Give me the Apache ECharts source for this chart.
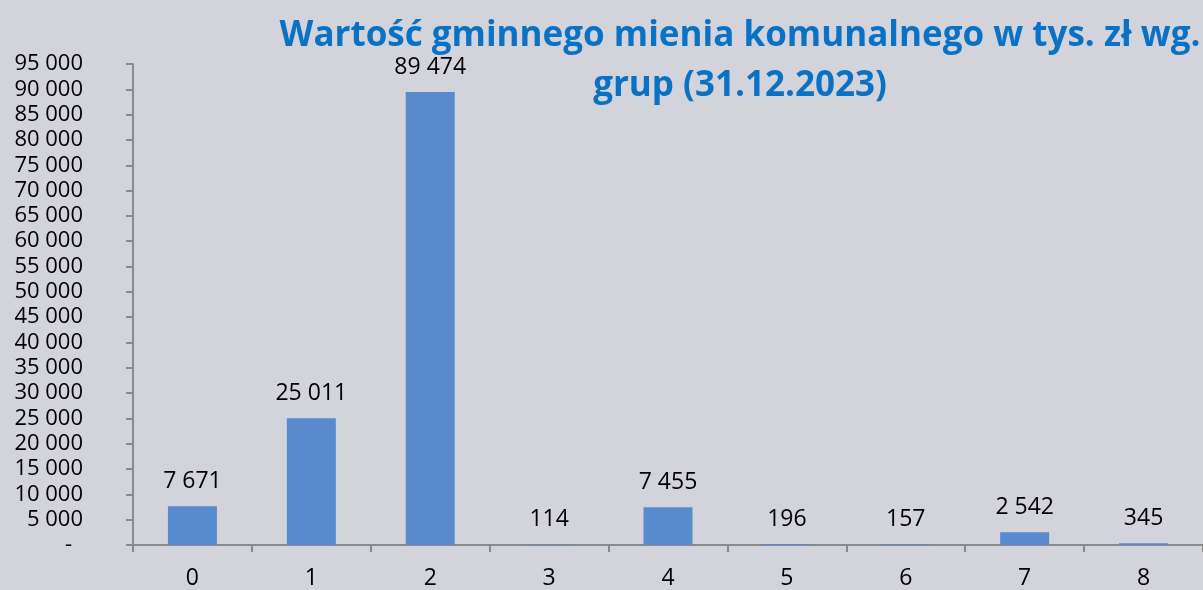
<!DOCTYPE html>
<html>
<head>
<meta charset="utf-8">
<script src="https://cdn.jsdelivr.net/npm/echarts@6/dist/echarts.min.js"></script>
<style>
    html, body { margin: 0; padding: 0; background: #d3d3db; }
    #chart { width: 1203px; height: 590px; }
</style>
</head>
<body>
<div id="chart"></div>
<script>
// dane
const categories = ['0', '1', '2', '3', '4', '5', '6', '7', '8']
const values = [7671, 25011, 89474, 114, 7455, 196, 157, 2542, 345]
const titleText = 'Wartość gminnego mienia komunalnego w tys. zł wg.\ngrup (31.12.2023)'

// 12345 -> "12 345", 0 -> "-"
function fmt(v) {
    if (v === 0) return '-'
    return String(v).replace(/\B(?=(\d{3})+(?!\d))/g, ' ')
}

const chart = echarts.init(document.getElementById('chart'))
chart.setOption({
    backgroundColor: '#d3d3db',
    animation: false,
    title: {
        text: titleText,
        left: 735,
        top: 6,
        textAlign: 'center',
        textStyle: {
            color: '#0a72c4',
            fontFamily: 'Open Sans',
            fontWeight: 'bold',
            fontSize: 35,
            lineHeight: 50
        }
    },
    grid: {
        left: 133,
        top: 64,
        width: 1080,
        bottom: 44
    },
    xAxis: {
        type: 'category',
        data: categories,
        axisLine: { lineStyle: { color: '#8a8a8a', width: 2 } },
        axisTick: { show: true, length: 7, lineStyle: { color: '#8a8a8a', width: 2 } },
        axisLabel: {
            color: '#000',
            fontFamily: 'Open Sans',
            fontSize: 23,
            margin: 22
        }
    },
    yAxis: {
        type: 'value',
        min: 0,
        max: 95000,
        interval: 5000,
        splitLine: { show: false },
        axisLine: { show: true, lineStyle: { color: '#8a8a8a', width: 2 } },
        axisTick: { show: true, length: 7, lineStyle: { color: '#8a8a8a', width: 2 } },
        axisLabel: {
            color: '#000',
            fontFamily: 'Open Sans',
            fontSize: 22,
            margin: 50,
            formatter: v => (v === 0 ? '{z|-}' : fmt(v)),
            rich: {
                z: {
                    color: '#000',
                    fontFamily: 'Open Sans',
                    fontSize: 22,
                    padding: [0, 11, 0, 0]
                }
            }
        }
    },
    series: [
        {
            type: 'bar',
            data: values,
            barWidth: 49,
            itemStyle: { color: '#588bcd' },
            label: {
                show: true,
                position: 'top',
                distance: 13,
                color: '#000',
                fontFamily: 'Open Sans',
                fontSize: 23,
                formatter: p => fmt(p.value)
            }
        }
    ]
})
</script>
</body>
</html>
